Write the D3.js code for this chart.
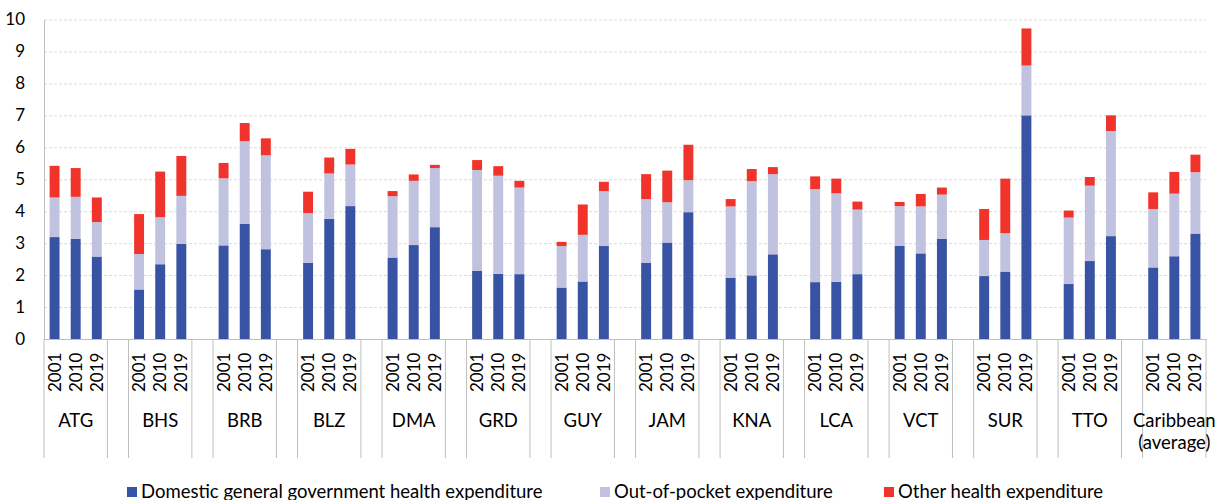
<!DOCTYPE html>
<html>
<head>
<meta charset="utf-8">
<script src="https://cdn.jsdelivr.net/npm/d3@7"></script>
<style>
  body { margin: 0; background: #fff; }
  svg text { font-family: Lato, "Open Sans", sans-serif; fill: #000; }
</style>
</head>
<body>
<div id="chart"></div>
<script>
const groups = ['ATG', 'BHS', 'BRB', 'BLZ', 'DMA', 'GRD', 'GUY', 'JAM', 'KNA', 'LCA', 'VCT', 'SUR', 'TTO', 'Caribbean\n(average)'];
const years = ['2001', '2010', '2019'];

// one row per group, one value per year
const domestic = [
  [3.19, 3.13, 2.58], [1.55, 2.34, 2.98], [2.93, 3.60, 2.81], [2.38, 3.76, 4.16],
  [2.55, 2.94, 3.50], [2.13, 2.04, 2.03], [1.61, 1.80, 2.91], [2.38, 3.02, 3.97],
  [1.92, 1.99, 2.65], [1.78, 1.79, 2.03], [2.92, 2.68, 3.13], [1.97, 2.11, 7.00],
  [1.72, 2.44, 3.22], [2.24, 2.59, 3.30]
];
const outOfPocket = [
  [1.24, 1.32, 1.08], [1.11, 1.47, 1.50], [2.10, 2.59, 2.94], [1.56, 1.42, 1.30],
  [1.92, 2.01, 1.85], [3.16, 3.07, 2.71], [1.30, 1.46, 1.72], [2.00, 1.26, 1.00],
  [2.23, 2.95, 2.51], [2.91, 2.77, 2.02], [1.24, 1.47, 1.39], [1.13, 1.20, 1.56],
  [2.08, 2.36, 3.29], [1.83, 1.96, 1.92]
];
const other = [
  [0.99, 0.90, 0.77], [1.25, 1.43, 1.25], [0.48, 0.57, 0.53], [0.67, 0.50, 0.49],
  [0.16, 0.20, 0.10], [0.31, 0.30, 0.21], [0.13, 0.95, 0.29], [0.78, 0.99, 1.11],
  [0.23, 0.38, 0.22], [0.40, 0.46, 0.25], [0.13, 0.39, 0.22], [0.97, 1.71, 1.16],
  [0.22, 0.27, 0.49], [0.52, 0.68, 0.55]
];
const yTicks = [0, 1, 2, 3, 4, 5, 6, 7, 8, 9, 10];
const seriesNames = ['Domestic general government health expenditure', 'Out-of-pocket expenditure', 'Other health expenditure'];

const w = 1215, h = 500;
const plotL = 44, plotR = 1206, plotT = 19.5, plotB = 339;
const colors = ['#3953a4', '#c1c1e0', '#f0342b'];
const grey = '#bfbfbf';
const fontSize = 17;
const labelSize = 18.5;

// category slots: 3 years per group, one empty slot between groups
const slots = [];
groups.forEach((g, gi) => {
  if (gi > 0) slots.push('gap' + gi);
  years.forEach(y => slots.push(g + '|' + y));
});

const rows = [];
groups.forEach((g, gi) => {
  years.forEach((y, yi) => {
    rows.push({ key: g + '|' + y, year: y, dom: domestic[gi][yi], oop: outOfPocket[gi][yi], oth: other[gi][yi] });
  });
});

const svg = d3.select('#chart').append('svg').attr('width', w).attr('height', h);

const x = d3.scaleBand().domain(slots).range([plotL, plotR]).padding(0);
const y = d3.scaleLinear().domain([0, 10]).range([plotB, plotT]);
const step = x.step();
const barW = step * 0.47;

// gridlines
svg.append('g')
  .attr('transform', `translate(${plotL},0)`)
  .call(d3.axisLeft(y).tickValues(yTicks.slice(1)).tickSize(-(plotR - plotL)).tickFormat(''))
  .call(g => g.select('.domain').remove())
  .call(g => g.selectAll('line').attr('stroke', '#d9d9d9').attr('stroke-dasharray', '3,2'));

// bars
const stack = d3.stack().keys(['dom', 'oop', 'oth']);
svg.append('g').selectAll('g')
  .data(stack(rows))
  .join('g')
  .attr('fill', (d, i) => colors[i])
  .selectAll('rect')
  .data(d => d)
  .join('rect')
  .attr('x', d => x(d.data.key) + (step - barW) / 2)
  .attr('width', barW)
  .attr('y', d => y(d[1]))
  .attr('height', d => y(d[0]) - y(d[1]));

// y axis
svg.append('g')
  .attr('transform', `translate(${plotL},0)`)
  .call(d3.axisLeft(y).tickValues(yTicks).tickSize(0).tickPadding(19))
  .call(g => g.select('.domain').attr('stroke', grey))
  .call(g => g.selectAll('text').attr('font-size', fontSize).style('font-family', 'Lato'));

// x axis with year labels
svg.append('g')
  .attr('transform', `translate(0,${plotB})`)
  .call(d3.axisBottom(x).tickSize(0).tickFormat(d => d.startsWith('gap') ? '' : d.split('|')[1]))
  .call(g => g.select('.domain').attr('stroke', grey))
  .call(g => g.selectAll('text')
    .attr('font-size', fontSize)
    .style('font-family', 'Lato')
    .attr('transform', 'rotate(-90)')
    .attr('x', -53)
    .attr('y', 6)
    .attr('dy', 0)
    .attr('text-anchor', 'start'));

// group separators
const seps = [plotL, plotR];
slots.filter(s => s.startsWith('gap')).forEach(s => { seps.push(x(s)); seps.push(x(s) + step); });
svg.append('g').selectAll('line')
  .data(seps)
  .join('line')
  .attr('x1', d => d).attr('x2', d => d)
  .attr('y1', plotB).attr('y2', 458)
  .attr('stroke', grey);

// group labels
groups.forEach(g => {
  const first = x(g + '|' + years[0]);
  const cx = first + step * 1.5;
  const t = svg.append('text')
    .attr('x', cx).attr('y', 427)
    .attr('text-anchor', 'middle')
    .attr('font-size', labelSize);
  g.split('\n').forEach((line, i) => {
    t.append('tspan').attr('x', cx).attr('dy', i === 0 ? 0 : 22).text(line);
  });
});

// legend
const legendX = [127, 600, 884];
const legend = svg.append('g').selectAll('g')
  .data(seriesNames)
  .join('g')
  .attr('transform', (d, i) => `translate(${legendX[i]},487)`);
legend.append('rect').attr('width', 10).attr('height', 10).attr('fill', (d, i) => colors[i]);
legend.append('text').attr('x', 14).attr('y', 10.5).attr('font-size', labelSize).text(d => d);
</script>
</body>
</html>
